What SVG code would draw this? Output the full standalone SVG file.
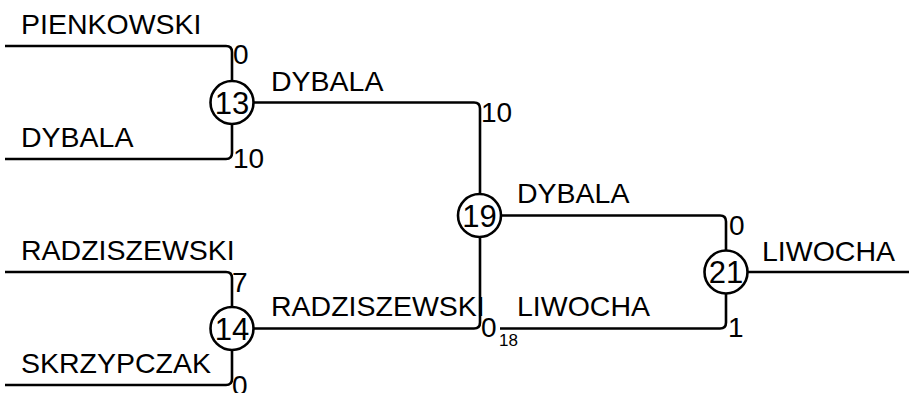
<svg xmlns="http://www.w3.org/2000/svg" width="909" height="393" viewBox="0 0 909 393">
<style>
.ln{fill:none;stroke:#000;stroke-width:2.6}
.nd{fill:#fff;stroke:#000;stroke-width:2.6}
text{font-family:"Liberation Sans",Arial,sans-serif;fill:#000}
.nm{font-size:28.5px}
.sc{font-size:28px}
.sub{font-size:17px}
.num{font-size:31px;text-anchor:middle}
</style>
<rect width="909" height="393" fill="#fff"/>
<g id="connectors">
<path class="ln" d="M5,46 H226 Q232,46 232,52 V81"/>
<path class="ln" d="M5,159 H226 Q232,159 232,153 V124"/>
<path class="ln" d="M5,272 H226 Q232,272 232,278 V307"/>
<path class="ln" d="M5,385 H226 Q232,385 232,379 V350"/>
<path class="ln" d="M253,102.5 H474 Q480,102.5 480,108.5 V194"/>
<path class="ln" d="M253,328.5 H474 Q480,328.5 480,322.5 V237"/>
<path class="ln" d="M501,215.5 H720 Q726,215.5 726,221.5 V251"/>
<path class="ln" d="M500,328.5 H720 Q726,328.5 726,322.5 V293"/>
<path class="ln" d="M747,272 H909"/>
</g>
<g id="labels">
<text class="nm" x="21" y="34">PIENKOWSKI</text>
<text class="nm" x="21" y="147">DYBALA</text>
<text class="nm" x="21" y="260">RADZISZEWSKI</text>
<text class="nm" x="21" y="373">SKRZYPCZAK</text>
<text class="nm" x="271" y="91">DYBALA</text>
<text class="nm" x="271" y="316">RADZISZEWSKI</text>
<text class="nm" x="517" y="203">DYBALA</text>
<text class="nm" x="517" y="316">LIWOCHA</text>
<text class="nm" x="762" y="261">LIWOCHA</text>
<text class="sc" x="233" y="64">0</text>
<text class="sc" x="233" y="168">10</text>
<text class="sc" x="232" y="292">7</text>
<text class="sc" x="232" y="395">0</text>
<text class="sc" x="481" y="122">10</text>
<text class="sc" x="481" y="337">0</text>
<text class="sub" x="499" y="346">18</text>
<text class="sc" x="729" y="235">0</text>
<text class="sc" x="728" y="337">1</text>
</g>
<g id="n13"><circle class="nd" cx="232" cy="102.5" r="21.5"/><text class="num" x="232" y="113.5">13</text></g>
<g id="n14"><circle class="nd" cx="232" cy="328.5" r="21.5"/><text class="num" x="232" y="339.5">14</text></g>
<g id="n19"><circle class="nd" cx="479.5" cy="215.5" r="21.5"/><text class="num" x="479.5" y="226.5">19</text></g>
<g id="n21"><circle class="nd" cx="726" cy="272" r="21.5"/><text class="num" x="726" y="283">21</text></g>
</svg>
